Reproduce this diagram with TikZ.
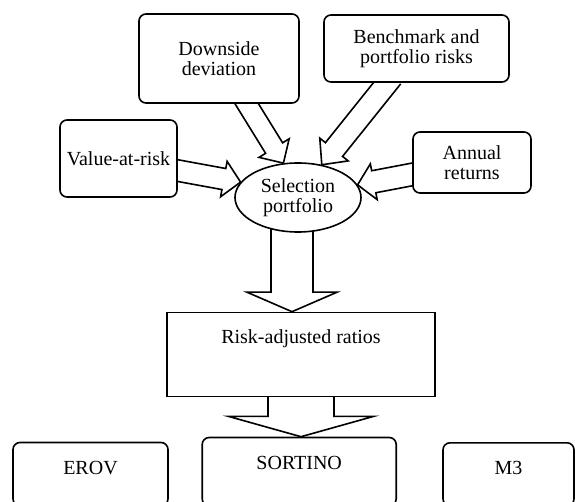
\documentclass[tikz,border=0pt]{standalone}
\usepackage{fontspec}
\setmainfont{Liberation Serif}
\usetikzlibrary{calc,shapes.geometric,backgrounds}
% block arrow: #1 base point, #2 tip, #3 shaft half width, #4 head half width, #5 head length
\newcommand\blockarr[5]{%
  \draw[arrline] ($(#1)!#3!90:(#2)$)
    -- ($(#2)!#5!(#1)!#3!-90:(#1)$)
    -- ($(#2)!#5!(#1)!#4!-90:(#1)$)
    -- (#2)
    -- ($(#2)!#5!(#1)!#4!90:(#1)$)
    -- ($(#2)!#5!(#1)!#3!90:(#1)$)
    -- ($(#1)!#3!-90:(#2)$);}
\begin{document}
\begin{tikzpicture}[x=1pt,y=-1pt,
  font=\fontsize{20}{20}\selectfont,
  line width=1.6pt,
  rbox/.style={draw, rounded corners=7pt, fill=white, align=center, inner sep=0pt},
  ebox/.style={draw, ellipse, fill=white, inner sep=0pt, align=center},
  sbox/.style={draw, fill=white, inner xsep=0pt, inner ysep=0pt},
  arrline/.style={draw, line width=1.6pt, line join=miter}]
\useasboundingbox (0,0) rectangle (575,502);

% boxes
\node[rbox, minimum width=160pt, minimum height=89pt] (dd) at (219,58.5) {Downside\\deviation};
\node[rbox, minimum width=185pt, minimum height=67pt] (bm) at (416.5,48.5) {Benchmark and\\portfolio risks};
\node[rbox, minimum width=117pt, minimum height=77pt] (vr) at (118.5,158.5) {Value-at-risk};
\node[rbox, minimum width=118pt, minimum height=61pt] (ar) at (472,162.5) {Annual\\returns};
\node[ebox, minimum width=126pt, minimum height=69pt] (sel) at (298,197.5) {Selection\\portfolio};
\node[sbox, minimum width=268pt, text height=30.8pt, text depth=53.2pt, anchor=north] (risk) at (301,311.7) {Risk-adjusted ratios};
\node[rbox, minimum width=155pt, text height=31.6pt, text depth=31.7pt, anchor=north] (erov) at (90.5,441.7) {EROV};
\node[rbox, minimum width=194pt, text height=31.6pt, text depth=36.7pt, anchor=north] (sortino) at (299.2,436.7) {SORTINO};
\node[rbox, minimum width=131pt, text height=31.3pt, text depth=31.7pt, anchor=north] (m3) at (508.5,442) {M3};

% arrow base points (inside the source shapes)
\coordinate (ddS) at ($(dd.south)+(23,-7.7)$);
\coordinate (bmS) at ($(bm.south)+(-24.4,-5.8)$);
\coordinate (vrS) at ($(vr.east)+(-8.75,10.5)$);
\coordinate (arS) at ($(ar.west)+(8.5,10.3)$);
\coordinate (selS) at ($(sel.center)+(-6,0)$);
\coordinate (selT) at (selS |- risk.north);
\coordinate (riskS) at ($(risk.south)+(0,-10)$);
\coordinate (riskT) at (riskS |- sortino.north);

\begin{pgfonlayer}{background}
  \blockarr{ddS}{sel.113}{10pt}{17.7pt}{17.7pt}
  \blockarr{bmS}{sel.54}{11pt}{18.2pt}{19.5pt}
  \blockarr{vrS}{sel.165}{10.7pt}{18pt}{17pt}
  \blockarr{arS}{sel.12}{11.2pt}{18.2pt}{16.5pt}
  \blockarr{selS}{selT}{21pt}{45pt}{19.5pt}
  \blockarr{riskS}{riskT}{33pt}{72.5pt}{20.3pt}
\end{pgfonlayer}
\end{tikzpicture}
\end{document}
